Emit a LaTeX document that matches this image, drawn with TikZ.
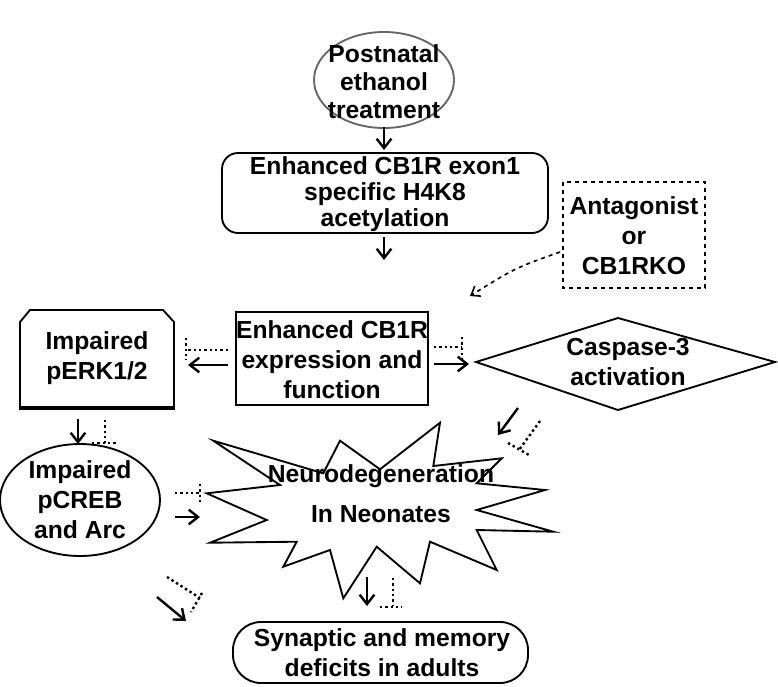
\documentclass[tikz,border=0pt]{standalone}
\usepackage{fontspec}
\setmainfont{Liberation Sans}
\usetikzlibrary{arrows.meta,shapes.geometric}
\begin{document}
\begin{tikzpicture}[x=0.75pt,y=-0.75pt,
  lbl/.style={font=\bfseries\fontsize{18.5}{22.5}\selectfont,align=center,inner sep=0},
  arr/.style={line width=1.8pt,-{Straight Barb[length=7pt,width=11pt]}},
  inh/.style={line width=1.8pt,dash pattern=on 1.8pt off 2.2pt},
  shp/.style={line width=1.4pt}]
\useasboundingbox (0,0) rectangle (778,686);
% top ellipse
\draw[shp,draw=gray!80!black] (384,80) ellipse [x radius=70, y radius=48];
\node[lbl,font=\bfseries\fontsize{18.5}{21}\selectfont] (post) at (384,82) {Postnatal\\ethanol\\treatment};
\coordinate (p1) at (384,127); \coordinate (p2) at (384,150);
\draw[arr] (p1) -- (p2);
% rounded box
\draw[shp,rounded corners=12pt] (222,153) rectangle (548,233);
\node[lbl,font=\bfseries\fontsize{18.5}{19.5}\selectfont] (acet) at (385,194) {Enhanced CB1R exon1\\specific H4K8\\acetylation};
\coordinate (a1) at (384,237); \coordinate (a2) at (384,260);
\draw[arr] (a1) -- (a2);
% antagonist
\draw[shp,dashed,line width=1.8pt] (563,182) rectangle (705,288);
\node[lbl] (ant) at (634,236) {Antagonist\\or\\CB1RKO};
\coordinate (d1) at (560,252); \coordinate (d2) at (470,296);
\draw[line width=1.2pt,dashed,-{Straight Barb[length=6pt,width=9pt]}] (d1) .. controls (515,268) .. (d2);
% CB1R box
\draw[shp] (236,312) rectangle (428,405);
\node[lbl] (cb1r) at (332,360) {Enhanced CB1R\\expression and\\function};
% pERK box
\draw[shp] (20,408) -- (20,322) -- (30,310) -- (163,310) -- (174,322) -- (174,408);
\draw[line width=2.5pt] (19,408) -- (175,408);
\node[lbl] (perk) at (97,358) {Impaired\\pERK1/2};
\coordinate (l1) at (228,365); \coordinate (l2) at (188,365);
\draw[arr] (l1) -- (l2);
\coordinate (li1) at (228,350); \coordinate (li2) at (186,350);
\draw[inh] (li1) -- (li2); \draw[inh] (186,338) -- (186,360);
\coordinate (r1) at (434,364); \coordinate (r2) at (469,364);
\draw[arr] (r1) -- (r2);
\coordinate (ri1) at (434,347); \coordinate (ri2) at (462,347);
\draw[inh] (ri1) -- (ri2); \draw[inh] (462,337) -- (462,360);
% diamond
\draw[shp] (476,362) -- (618,318) -- (775,362) -- (618,410) -- cycle;
\node[lbl] (casp) at (628,362) {Caspase-3\\activation};
\coordinate (c1) at (518,408); \coordinate (c2) at (498,435);
\draw[arr] (c1) -- (c2);
\draw[inh] (540,421) -- (519,450); \draw[inh] (508,443) -- (529,455);
% pERK down
\coordinate (e1) at (78,419); \coordinate (e2) at (78,444);
\draw[arr] (e1) -- (e2);
\draw[inh] (105,420) -- (105,443); \draw[inh] (92,443) -- (116,443);
% pCREB
\draw[shp] (80,500) ellipse [x radius=80, y radius=56];
\node[lbl] (creb) at (80,500) {Impaired\\pCREB\\and Arc};
\draw[inh] (175,493) -- (199,493); \draw[inh] (200,484) -- (200,505);
\coordinate (k1) at (175,517); \coordinate (k2) at (200,517);
\draw[arr] (k1) -- (k2);
% star
\draw[shp] (213.3,440.7) -- (323.3,473.3) -- (340,440.7) -- (380,469.3) -- (440,422.7) -- (433.3,466) -- (501.7,458.3) -- (476.7,483.3) -- (545,490) -- (476.7,510) -- (553.3,531.7) -- (476.7,530) -- (496.7,570) -- (430,541.7) -- (420,583.3) -- (376.7,546.7) -- (343.3,598.3) -- (330,550) -- (283.3,566.7) -- (296.7,541.7) -- (210,542.7) -- (266.7,520) -- (206.7,493.3) -- (280,485) -- cycle;
\node[lbl,font=\bfseries\fontsize{18.5}{30}\selectfont] (neuro) at (381,494) {Neurodegeneration\\In Neonates};
\coordinate (n1) at (367,577); \coordinate (n2) at (367,606);
\draw[arr] (n1) -- (n2);
\draw[inh] (393,578) -- (393,606); \draw[inh] (380,607) -- (402,607);
% diagonal from pCREB
\coordinate (g1) at (157,597); \coordinate (g2) at (186,621);
\draw[arr] (g1) -- (g2);
\draw[inh] (167,577) -- (200,598); \draw[inh] (202,593) -- (191,612);
% bottom stadium
\draw[shp,rounded corners=21pt] (233,622) rectangle (528,683);
\node[lbl] (syn) at (382,653) {Synaptic and memory\\deficits in adults};
\end{tikzpicture}
\end{document}
